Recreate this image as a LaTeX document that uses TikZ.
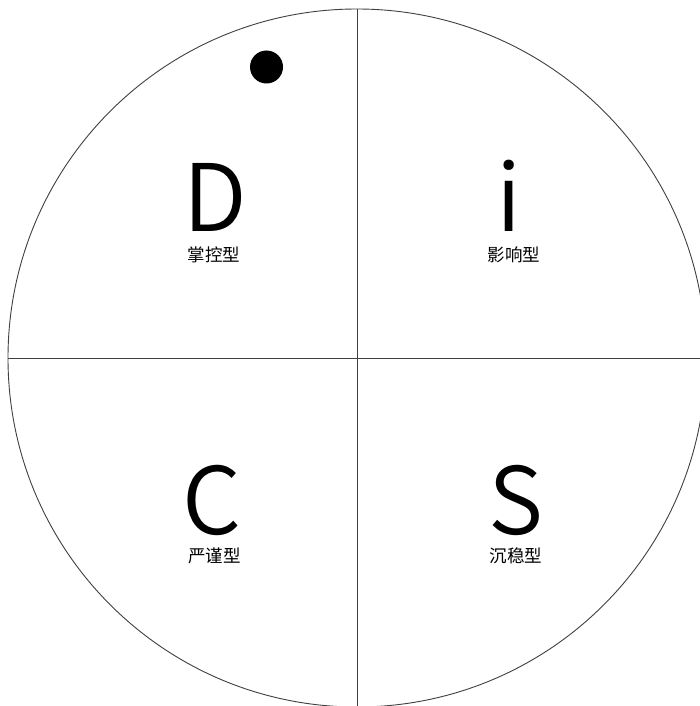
\documentclass[tikz,border=0pt]{standalone}
\usepackage{fontspec}
\setmainfont{Noto Sans CJK SC}
\newfontfamily\cjk{Noto Sans CJK SC}
\newfontfamily\cjkdemi{Noto Sans CJK SC DemiLight}
\begin{document}
\begin{tikzpicture}[x=1pt,y=-1pt,
  frame/.style={draw=black!75,line width=0.9pt},
  letter/.style={anchor=base,inner sep=0pt,font=\cjkdemi\fontsize{93}{93}\selectfont},
  typelabel/.style={anchor=base,inner sep=0pt,font=\cjk\fontsize{17.5}{17.5}\selectfont}]
\useasboundingbox (0,0) rectangle (700,706);
\clip (0,0) rectangle (700,706);
\fill[white] (0,0) rectangle (700,706);
\coordinate (c) at (357,358);
\draw[frame] (c) circle[radius=349];
\coordinate (top) at (357,9);
\coordinate (bot) at (357,706);
\coordinate (lft) at (8,358);
\coordinate (rgt) at (700,358);
\draw[frame] (top) -- (bot);
\draw[frame] (lft) -- (rgt);
\fill (266.5,67) circle[radius=16.5];
\node[letter] (D) at (215.5,231) {D};
\node[letter] (I) at (509.5,231) {i};
\node[letter] (C) at (212,534) {C};
\node[letter] (S) at (516,534) {S};
\node[typelabel] (Dl) at (214,261) {掌控型};
\node[typelabel] (Il) at (514,261) {影响型};
\node[typelabel] (Cl) at (214.5,562) {严谨型};
\node[typelabel] (Sl) at (516,562) {沉稳型};
\end{tikzpicture}
\end{document}
